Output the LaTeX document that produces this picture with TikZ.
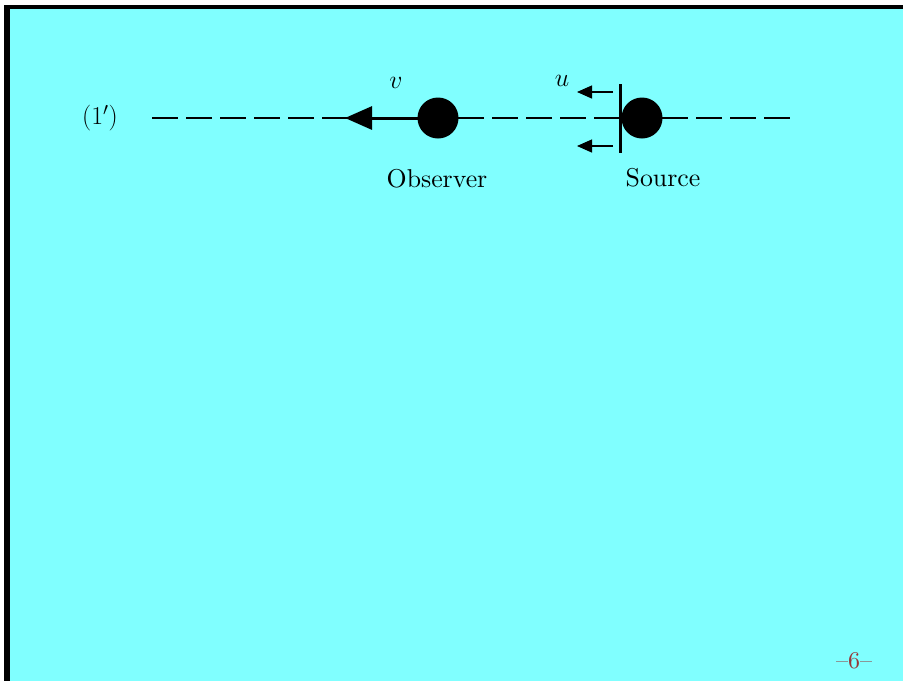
\documentclass[tikz,border=0pt]{standalone}
\usepackage{fix-cm}
\usepackage{fontspec}
\newfontfamily\lmten[Ligatures=TeX]{lmroman10-regular.otf}
\usetikzlibrary{arrows.meta}
\definecolor{slidebg}{RGB}{128,255,255}
\definecolor{pagenum}{RGB}{150,55,55}
\tikzset{
  ball/.style={circle, fill=black, draw=none, minimum size=41pt, inner sep=0pt},
  dashline/.style={line width=1.3pt, dash pattern=on 26pt off 8pt},
  bigarrow/.style={line width=3pt, -{Triangle[length=27pt,width=23pt]}},
  smallarrow/.style={line width=1.3pt, -{Triangle[length=15pt,width=13pt]}},
  bar/.style={line width=3pt},
  txt/.style={inner sep=0pt, font=\lmten\fontsize{25.8}{31}\selectfont},
}
\begin{document}
\begin{tikzpicture}[x=1pt,y=-1pt]
\fill[white] (0,0) rectangle (903,681);
\useasboundingbox (0,0) rectangle (903,681);
\fill[black] (3.5,5) rectangle (903,681);
\fill[slidebg] (10,8.5) rectangle (903,681);
% dashed axis
\coordinate (lineL) at (152,118);
\coordinate (lineR) at (790,118);
\draw[dashline] (lineL) -- (lineR);
% observer and source
\node[ball] (obs) at (438,118) {};
\node[ball] (src) at (642,118) {};
\coordinate (obstip) at (345,118);
\draw[bigarrow] (obs.center) -- (obstip);
% source bar
\coordinate (bartop) at (620,84);
\coordinate (barbot) at (620,153);
\draw[bar] (bartop) -- (barbot);
\coordinate (ua1s) at (613,92);
\coordinate (ua1e) at (577,92);
\coordinate (ua2s) at (613,146);
\coordinate (ua2e) at (577,146);
\draw[smallarrow] (ua1s) -- (ua1e);
\draw[smallarrow] (ua2s) -- (ua2e);
% labels
\node[txt] (vlab) at (396,83) {$v$};
\node[txt] (ulab) at (562,81) {$u$};
\node[txt] (obslab) at (437,179) {Observer};
\node[txt] (srclab) at (663,178) {Source};
\node[txt] (eqlab) at (100,118) {$(1')$};
\node[inner sep=0pt, text=pagenum, font=\lmten\fontsize{24}{28}\selectfont] (pnum) at (854,661) {\textendash6\textendash};
\end{tikzpicture}
\end{document}
